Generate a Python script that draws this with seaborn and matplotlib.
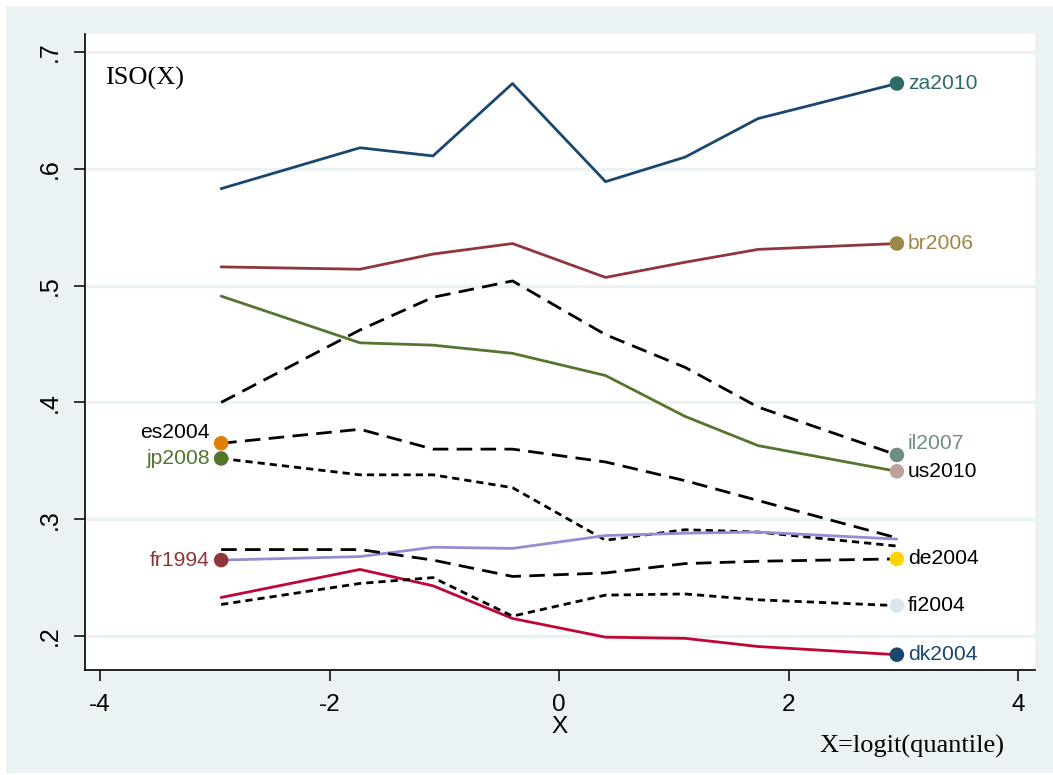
import numpy as np
import pandas as pd
import matplotlib
matplotlib.use("Agg")
import matplotlib.pyplot as plt
import seaborn as sns
from matplotlib.patches import Rectangle

# quantile points on the logit scale
quantiles = [0.05, 0.15, 0.25, 0.40, 0.60, 0.75, 0.85, 0.95]

# ISO(X) values, one list per country-year
za2010 = [0.583, 0.618, 0.611, 0.673, 0.589, 0.610, 0.643, 0.673]
br2006 = [0.516, 0.514, 0.527, 0.536, 0.507, 0.520, 0.531, 0.536]
us2010 = [0.491, 0.451, 0.449, 0.442, 0.423, 0.388, 0.363, 0.341]
il2007 = [0.400, 0.462, 0.490, 0.504, 0.458, 0.430, 0.396, 0.355]
es2004 = [0.365, 0.377, 0.360, 0.360, 0.349, 0.333, 0.316, 0.284]
jp2008 = [0.352, 0.338, 0.338, 0.327, 0.282, 0.291, 0.289, 0.277]
fr1994 = [0.265, 0.268, 0.276, 0.275, 0.286, 0.288, 0.289, 0.283]
de2004 = [0.274, 0.274, 0.265, 0.251, 0.254, 0.262, 0.264, 0.266]
dk2004 = [0.233, 0.257, 0.243, 0.215, 0.199, 0.198, 0.191, 0.184]
fi2004 = [0.227, 0.245, 0.250, 0.217, 0.235, 0.236, 0.231, 0.226]

series_names = ["za2010", "br2006", "us2010", "il2007", "es2004",
                "jp2008", "fr1994", "de2004", "dk2004", "fi2004"]
series_values = [za2010, br2006, us2010, il2007, es2004,
                 jp2008, fr1994, de2004, dk2004, fi2004]
# which end of the line carries the country label
label_side = ["right", "right", "right", "right", "left",
              "left", "left", "right", "right", "right"]

# Stata s2color style colours
line_colors = {"za2010": "#1a476f", "br2006": "#90353b", "us2010": "#55752f",
               "il2007": "black", "es2004": "black", "jp2008": "black",
               "fr1994": "#938dd2", "de2004": "black", "dk2004": "#c10534",
               "fi2004": "black"}
long_dash = (5.6, 3.0)
short_dash = (2.6, 1.8)
line_dashes = {"za2010": "", "br2006": "", "us2010": "", "il2007": long_dash,
               "es2004": long_dash, "jp2008": short_dash, "fr1994": "",
               "de2004": long_dash, "dk2004": "", "fi2004": short_dash}
marker_colors = {"za2010": "#2d6d66", "br2006": "#9c8847", "us2010": "#bfa19c",
                 "il2007": "#6e8e84", "es2004": "#e37e00", "jp2008": "#55752f",
                 "fr1994": "#90353b", "de2004": "#ffd200", "dk2004": "#1a476f",
                 "fi2004": "#d9e6eb"}
text_colors = {"za2010": "#2d6d66", "br2006": "#9c8847", "us2010": "black",
               "il2007": "#6e8e84", "es2004": "black", "jp2008": "#55752f",
               "fr1994": "#90353b", "de2004": "black", "dk2004": "#1a476f",
               "fi2004": "black"}
# small vertical nudges (points) so close labels do not collide
text_dy = {"il2007": 8, "es2004": 8, "us2010": 0}

x_vals = np.log(np.array(quantiles) / (1 - np.array(quantiles)))

rows = []
for name, vals in zip(series_names, series_values):
    for xv, yv in zip(x_vals, vals):
        rows.append({"x": xv, "iso": yv, "series": name})
df = pd.DataFrame(rows)

ends = []
for name, vals, side in zip(series_names, series_values, label_side):
    i = -1 if side == "right" else 0
    ends.append({"x": x_vals[i], "iso": vals[i], "series": name, "side": side})
df_ends = pd.DataFrame(ends)

sns.set_theme(style="white")
plt.rcParams["font.family"] = ["Liberation Sans", "DejaVu Sans"]
plt.rcParams["text.color"] = "black"
plt.rcParams["axes.labelcolor"] = "black"
plt.rcParams["xtick.color"] = "black"
plt.rcParams["ytick.color"] = "black"

bg = "#eaf2f3"
fig = plt.figure(figsize=(10.53, 7.75), dpi=100, facecolor="white")
fig.patches.append(Rectangle((6 / 1053, 2 / 775), 1, 767 / 775,
                             transform=fig.transFigure, facecolor=bg,
                             edgecolor="none", zorder=-5))
ax = fig.add_axes([85 / 1053, 1 - 670 / 775, 950 / 1053, 636 / 775])
ax.set_zorder(2)
ax.set_facecolor("white")

sns.lineplot(data=df, x="x", y="iso", hue="series", style="series",
             palette=line_colors, dashes=line_dashes, sort=False,
             estimator=None, linewidth=2.0, legend=False, ax=ax, zorder=3)
sns.scatterplot(data=df_ends, x="x", y="iso", hue="series",
                palette=marker_colors, s=110, linewidth=0, legend=False,
                ax=ax, zorder=4)

for _, r in df_ends.iterrows():
    dy = text_dy.get(r["series"], 0)
    if r["side"] == "right":
        ax.annotate(r["series"], (r["x"], r["iso"]), xytext=(8, dy),
                    textcoords="offset points", ha="left", va="center",
                    fontsize=15.2, color=text_colors[r["series"]])
    else:
        ax.annotate(r["series"], (r["x"], r["iso"]), xytext=(-8, dy),
                    textcoords="offset points", ha="right", va="center",
                    fontsize=15.2, color=text_colors[r["series"]])

ax.set_xlim(-4.131, 4.148)
ax.set_ylim(0.1709, 0.7154)
yt = [0.2, 0.3, 0.4, 0.5, 0.6, 0.7]
ax.set_yticks(yt)
ax.set_yticklabels([".2", ".3", ".4", ".5", ".6", ".7"], rotation=90,
                   va="center", fontsize=18)
ax.set_xticks([-4, -2, 0, 2, 4])
ax.set_xticklabels(["-4", "-2", "0", "2", "4"], fontsize=17.5)
for v in yt:
    ax.axhline(v, color=bg, lw=2.4, zorder=1)

ax.tick_params(axis="both", direction="out", length=8, width=1.1,
               color="black", left=True, bottom=True)
ax.tick_params(axis="y", pad=9)
ax.tick_params(axis="x", pad=9)
for s in ["top", "right"]:
    ax.spines[s].set_visible(False)
for s in ["left", "bottom"]:
    ax.spines[s].set_color("black")
    ax.spines[s].set_linewidth(1.2)

ax.set_xlabel("X", fontsize=17.5, labelpad=0)
ax.set_ylabel("")

fig.text(105 / 1053, 1 - 78 / 775, "ISO(X)", ha="left", va="center",
         fontsize=19, family=["Liberation Serif", "DejaVu Serif"], zorder=5)
fig.text(1004 / 1053, 1 - 746 / 775, "X=logit(quantile)", ha="right",
         va="center", fontsize=19, family=["Liberation Serif", "DejaVu Serif"])

fig.savefig("out.png", dpi=100, facecolor=fig.get_facecolor())
